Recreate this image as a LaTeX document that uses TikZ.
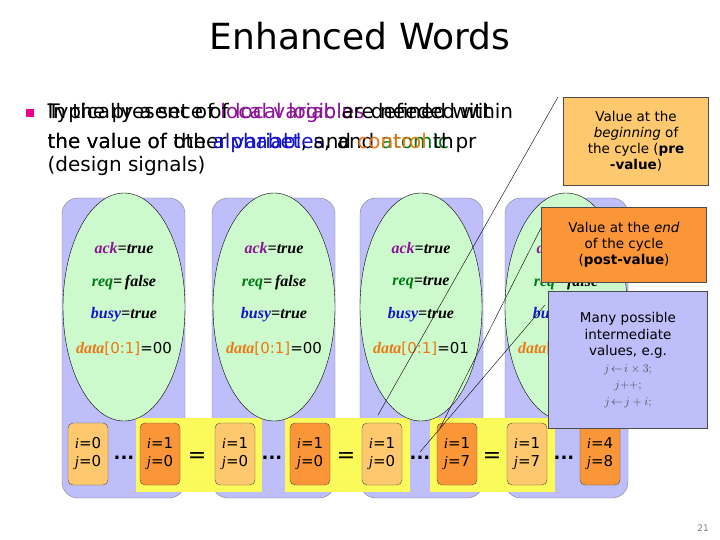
\documentclass[tikz,border=0pt]{standalone}
\usepackage{fontspec}
\setmainfont{DejaVu Sans}
\newfontfamily\serifit{Liberation Serif}
\usetikzlibrary{shapes.geometric}
\definecolor{colbg}{RGB}{190,190,250}
\definecolor{ellbg}{RGB}{205,250,205}
\definecolor{prebox}{RGB}{253,200,110}
\definecolor{postbox}{RGB}{250,150,55}
\definecolor{hilite}{RGB}{250,250,90}
\definecolor{vpurple}{RGB}{140,20,150}
\definecolor{vgreen}{RGB}{0,120,20}
\definecolor{vblue}{RGB}{20,20,200}
\definecolor{vorange}{RGB}{235,120,20}
\tikzset{
  column/.style={draw=gray,fill=colbg,rounded corners=16pt},
  state/.style={ellipse,draw,fill=ellbg,minimum width=122pt,minimum height=228pt,inner sep=0pt},
  field/.style={font=\serifit\bfseries\itshape\fontsize{16}{16}\selectfont},
  cell/.style={draw=black!70,rounded corners=5pt,minimum width=40pt,minimum height=62pt,align=center,inner sep=1pt,font=\fontsize{15}{18}\selectfont},
  callout/.style={draw=black!70,align=center,font=\fontsize{13.5}{16}\selectfont,inner sep=3pt},
}
\newcommand{\ijval}[2]{{\serifit\itshape i}=#1\\{\serifit\itshape j}=#2}
\begin{document}
\begin{tikzpicture}[x=1pt,y=-1pt]
  \useasboundingbox[fill=white] (0,0) rectangle (720,540);
  % title
  \node (title) at (360,36) {\fontsize{36}{40}\selectfont Enhanced Words};
  % bullet text (two overlapping texts)
  \fill[magenta] (26,109) rectangle (34,117);
  \node[anchor=west,font=\fontsize{20}{22}\selectfont] (l1a) at (44,113) {Typically a set of \textcolor{vpurple}{local variables} defined within};
  \node[anchor=west,font=\fontsize{20}{22}\selectfont] (l1b) at (44,113) {In the presence of \textcolor{vpurple}{local logic} are needed wit};
  \node[anchor=west,font=\fontsize{20}{22}\selectfont] (l2a) at (44,143) {the value of other \textcolor{vblue}{variables}, and \textcolor{vgreen}{atomic} pr};
  \node[anchor=west,font=\fontsize{20}{22}\selectfont] (l2b) at (44,143) {the value of the \textcolor{vblue}{alphabet}, and \textcolor{vorange}{control} th};
  \node[anchor=west,font=\fontsize{20}{22}\selectfont] (l3) at (44,166) {(design signals)};
  % columns
  \foreach \n/\x in {1/62,2/212,3/360,4/505}
    \draw[column] (\x,198) rectangle ++(123,300);
  % highlights
  \foreach \a/\b in {136/262,285/410,430/555}
    \fill[hilite] (\a,418) rectangle (\b,492);
  % states
  \foreach \n/\x/\r/\d in {1/124/{=\,false}/00,2/274/{=\,false}/00,3/421/{=true}/01,4/566/{=\,false}/01}{
    \node[state] (s\n) at (\x,307) {};
    \node[field] at (\x,248) {\textcolor{vpurple}{ack}=true};
    \node[field] at (\x,283) {\textcolor{vgreen}{req}\r};
    \node[field] at (\x,315) {\textcolor{vblue}{busy}=true};
    \node[field] at (\x,349) {\textcolor{vorange}{data}{\upshape\mdseries\fontspec{DejaVu Sans}\fontsize{15}{15}\selectfont\textcolor{vorange}{[0:1]}=\d}};
  }
  % cells
  \node[cell,fill=prebox] (a1) at (88,454) {\ijval{0}{0}};
  \node[cell,fill=postbox] (b1) at (160,454) {\ijval{1}{0}};
  \node[cell,fill=prebox] (a2) at (235,454) {\ijval{1}{0}};
  \node[cell,fill=postbox] (b2) at (310,454) {\ijval{1}{0}};
  \node[cell,fill=prebox] (a3) at (382,454) {\ijval{1}{0}};
  \node[cell,fill=postbox] (b3) at (457,454) {\ijval{1}{7}};
  \node[cell,fill=prebox] (a4) at (527,454) {\ijval{1}{7}};
  \node[cell,fill=postbox] (b4) at (600,454) {\ijval{4}{8}};
  \foreach \n/\x in {1/124,2/272,3/420,4/564}
    \node[font=\fontsize{18}{18}\selectfont\bfseries] (d\n) at (\x,458) {...};
  \foreach \n/\x in {1/197,2/346,3/492}
    \node[font=\fontsize{22}{22}\selectfont] (e\n) at (\x,458) {=};
  % callouts
  \coordinate (pretip) at (378,415);
  \coordinate (posttip) at (440,428);
  \coordinate (midtip) at (420,452);
  \draw (pretip) -- (558,97);
  \draw (posttip) -- (545,220);
  \draw (midtip) -- (545,305);
  \node[callout,fill=prebox,minimum width=145pt,minimum height=88pt] (pre) at (636,141)
    {Value at the\\\textit{beginning} of\\the cycle (\textbf{pre}\\\textbf{-value})};
  \node[callout,fill=postbox,minimum width=165pt,minimum height=75pt] (post) at (624,245)
    {Value at the \textit{end}\\of the cycle\\(\textbf{post-value})};
  \node[callout,fill=colbg,minimum width=159pt,minimum height=137pt,font=\fontsize{13.5}{16.5}\selectfont] (many) at (628,360)
    {Many possible\\intermediate\\values, e.g.\\{\color{black!70}\large$j\!\leftarrow\! i\times 3;$}\\{\color{black!70}\large$j{+}{+};$}\\{\color{black!70}\large$j\!\leftarrow\! j+i;$}};
  % page number
  \node[text=gray,font=\fontsize{9}{9}\selectfont] (page) at (703,528) {21};
\end{tikzpicture}
\end{document}
